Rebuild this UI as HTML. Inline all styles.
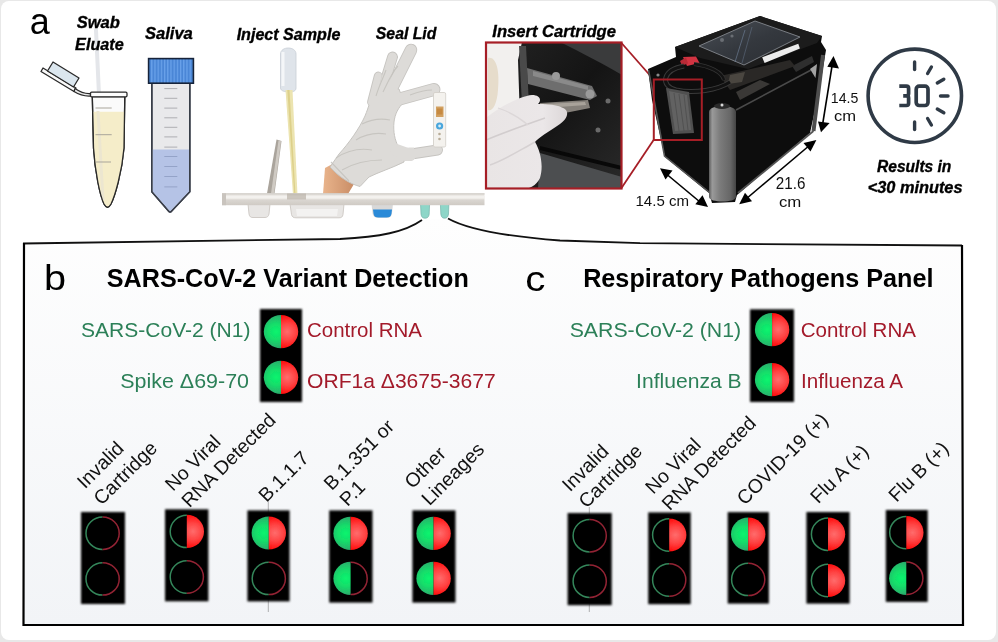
<!DOCTYPE html>
<html><head><meta charset="utf-8">
<style>
html,body{margin:0;padding:0;background:#e8e8e8;}
body{width:998px;height:642px;overflow:hidden;position:relative;font-family:"Liberation Sans",sans-serif;}
#frame{position:absolute;left:1px;top:1px;width:995px;height:639px;background:#fff;border-radius:8px;}
svg{position:absolute;left:0;top:0;will-change:transform;}
.lbl{font-family:"Liberation Sans",sans-serif;font-weight:bold;font-style:italic;}
.g{fill:#2c8058;}
.r{fill:#a31a2a;}
.rot{font-size:18px;fill:#111;}
</style></head>
<body>
<div id="frame"></div>
<svg width="998" height="642" viewBox="0 0 998 642">
<defs>
  <linearGradient id="boxbg" x1="0" y1="0" x2="0" y2="1">
    <stop offset="0" stop-color="#fefefe"/>
    <stop offset="1" stop-color="#f2f4f7"/>
  </linearGradient>
  <radialGradient id="gG" cx="0.36" cy="0.5" r="0.55">
    <stop offset="0" stop-color="#0cf46e"/>
    <stop offset="0.45" stop-color="#14dc6a"/>
    <stop offset="0.8" stop-color="#26b86c"/>
    <stop offset="1" stop-color="#2a9a66"/>
  </radialGradient>
  <radialGradient id="rG" cx="0.68" cy="0.5" r="0.55">
    <stop offset="0" stop-color="#ff6c6c"/>
    <stop offset="0.45" stop-color="#ff4444"/>
    <stop offset="0.85" stop-color="#ff1414"/>
    <stop offset="1" stop-color="#e80808"/>
  </radialGradient>
  <filter id="soft" x="-10%" y="-10%" width="120%" height="120%"><feGaussianBlur stdDeviation="0.8"/></filter>
  <filter id="soft2" x="-10%" y="-10%" width="120%" height="120%"><feGaussianBlur stdDeviation="0.45"/></filter>
  <clipPath id="cl"><rect x="-30" y="-30" width="30" height="60"/></clipPath>
  <clipPath id="cr"><rect x="0" y="-30" width="30" height="60"/></clipPath>
  <g id="full" filter="url(#soft2)">
    <ellipse rx="17.2" ry="16.6" fill="url(#gG)" clip-path="url(#cl)"/>
    <ellipse rx="17.2" ry="16.6" fill="url(#rG)" clip-path="url(#cr)"/>
  </g>
  <g id="empty" filter="url(#soft2)">
    <path d="M0,-16.2 A16.6,16.2 0 0 0 0,16.2" fill="none" stroke="#34865a" stroke-width="1.5"/>
    <path d="M0,-16.2 A16.6,16.2 0 0 1 0,16.2" fill="none" stroke="#932434" stroke-width="1.5"/>
  </g>
  <g id="redonly" filter="url(#soft2)">
    <path d="M0,-16.2 A16.6,16.2 0 0 0 0,16.2" fill="none" stroke="#34865a" stroke-width="1.5"/>
    <ellipse rx="17.2" ry="16.6" fill="url(#rG)" clip-path="url(#cr)"/>
  </g>
  <g id="greenonly" filter="url(#soft2)">
    <ellipse rx="17.2" ry="16.6" fill="url(#gG)" clip-path="url(#cl)"/>
    <path d="M0,-16.2 A16.6,16.2 0 0 1 0,16.2" fill="none" stroke="#932434" stroke-width="1.5"/>
  </g>
</defs>

<!-- ============ BOX ============ -->
<path d="M23,243.5 L340,239 C380,237 405,232 422,220 L448,218.5 C465,228 500,236 560,240.5 L640,243.2 L962,245.5 L963,625 L23,625 Z" fill="url(#boxbg)"/>
<path d="M23,243.5 L340,239 C380,237 405,232 422,220" fill="none" stroke="#111" stroke-width="1.8"/>
<path d="M448,218.5 C465,228 500,236 560,240.5 L640,243.2 L962,245.5" fill="none" stroke="#111" stroke-width="1.8"/>
<path d="M24,243 L23.5,625 L963,625 L962,245" fill="none" stroke="#000" stroke-width="2.2"/>

<!-- ============ PANEL B ============ -->
<text id="tB" x="44.1" y="290.2" font-size="36" fill="#000" transform="translate(46,0) scale(1.1,1) translate(-46,0)">b</text>
<text id="tTitleB" x="287.8" y="287.3" font-size="25" font-weight="bold" text-anchor="middle" fill="#000" textLength="362.0" lengthAdjust="spacingAndGlyphs">SARS-CoV-2 Variant Detection</text>
<text id="g1" x="250.5" y="336.6" font-size="20.5" text-anchor="end" class="g" textLength="169.5" lengthAdjust="spacingAndGlyphs">SARS-CoV-2 (N1)</text>
<text id="g2" x="249.0" y="387.8" font-size="20.5" text-anchor="end" class="g" textLength="128.7" lengthAdjust="spacingAndGlyphs">Spike Δ69-70</text>
<text id="r1" x="307.0" y="336.7" font-size="20.5" class="r" textLength="115.0" lengthAdjust="spacingAndGlyphs">Control RNA</text>
<text id="r2" x="307.1" y="387.9" font-size="20.5" class="r" textLength="188.5" lengthAdjust="spacingAndGlyphs">ORF1a Δ3675-3677</text>
<rect x="260" y="309" width="42" height="93" fill="#000" filter="url(#soft)"/>
<use href="#full" x="281" y="331.7"/>
<use href="#full" x="281" y="377.3"/>

<!-- ============ PANEL C ============ -->
<text id="tC" x="525.5" y="290.7" font-size="36" fill="#000" transform="translate(527,0) scale(1.12,1) translate(-527,0)">c</text>
<text id="tTitleC" x="758.3" y="287.4" font-size="25" font-weight="bold" text-anchor="middle" fill="#000" textLength="350.3" lengthAdjust="spacingAndGlyphs">Respiratory Pathogens Panel</text>
<text id="g3" x="741.1" y="337" font-size="20.5" text-anchor="end" class="g" textLength="171.4" lengthAdjust="spacingAndGlyphs">SARS-CoV-2 (N1)</text>
<text id="g4" x="741.7" y="387.9" font-size="20.5" text-anchor="end" class="g" textLength="105.6" lengthAdjust="spacingAndGlyphs">Influenza B</text>
<text id="r3" x="800.7" y="337" font-size="20.5" class="r" textLength="115.3" lengthAdjust="spacingAndGlyphs">Control RNA</text>
<text id="r4" x="801.1" y="388" font-size="20.5" class="r" textLength="102.0" lengthAdjust="spacingAndGlyphs">Influenza A</text>
<rect x="750" y="309.3" width="44" height="92.7" fill="#000" filter="url(#soft)"/>
<use href="#full" x="772.1" y="329.7"/>
<use href="#full" x="772.1" y="379.7"/>

<line x1="268.3" y1="500" x2="268.3" y2="612" stroke="#555" stroke-width="0.8" opacity="0.55"/>
<line x1="589.3" y1="507" x2="589.3" y2="612" stroke="#555" stroke-width="0.8" opacity="0.55"/>
<!-- bottom row B -->
<g filter="url(#soft)">
<rect x="81" y="512" width="44" height="92" fill="#000"/>
<rect x="165" y="509.3" width="43.4" height="92" fill="#000"/>
<rect x="247.4" y="510.4" width="42.2" height="91" fill="#000"/>
<rect x="329.2" y="510.4" width="43.3" height="92.2" fill="#000"/>
<rect x="412.4" y="510.4" width="43.1" height="92.2" fill="#000"/>
<rect x="567.6" y="513" width="44.1" height="92.2" fill="#000"/>
<rect x="648.2" y="512.4" width="42.5" height="91.8" fill="#000"/>
<rect x="727.7" y="512.1" width="41.2" height="91.5" fill="#000"/>
<rect x="806.4" y="512" width="43.2" height="91.6" fill="#000"/>
<rect x="885.8" y="510" width="41.9" height="91.9" fill="#000"/>
</g>
<use href="#empty" x="102.6" y="533.2"/><use href="#empty" x="102.6" y="578.9"/>
<use href="#redonly" x="186.8" y="531.4"/><use href="#empty" x="186.8" y="577"/>
<use href="#full" x="268.8" y="533"/><use href="#empty" x="268.8" y="578.4"/>
<use href="#full" x="350.6" y="533.4"/><use href="#greenonly" x="350.6" y="578.4"/>
<use href="#full" x="433.6" y="533.4"/><use href="#full" x="433.6" y="578.4"/>

<use href="#empty" x="589.7" y="535.7"/><use href="#empty" x="589.7" y="581.2"/>
<use href="#redonly" x="669.2" y="535"/><use href="#empty" x="669.2" y="580"/>
<use href="#full" x="748.2" y="534.2"/><use href="#empty" x="748.2" y="579.4"/>
<use href="#redonly" x="828" y="534.2"/><use href="#redonly" x="828" y="580.5"/>
<use href="#redonly" x="906.3" y="532.6"/><use href="#greenonly" x="906.3" y="578.3"/>

<!-- rotated labels -->
<g fill="#111" font-size="19.5">
<text transform="translate(85.0,489.5) rotate(-45)"><tspan x="0" y="0">Invalid</tspan><tspan x="0" y="23.5">Cartridge</tspan></text>
<text transform="translate(173.0,492.0) rotate(-45)"><tspan x="0" y="0">No Viral</tspan><tspan x="0" y="23.5">RNA Detected</tspan></text>
<text transform="translate(266.5,503.0) rotate(-45)">B.1.1.7</text>
<text transform="translate(331.7,491.3) rotate(-45)"><tspan x="0" y="0">B.1.351 or</tspan><tspan x="0" y="22.5">P.1</tspan></text>
<text transform="translate(412.5,489.5) rotate(-45)"><tspan x="0" y="0">Other</tspan><tspan x="0" y="24">Lineages</tspan></text>
<text transform="translate(570.0,492.5) rotate(-45)"><tspan x="0" y="0">Invalid</tspan><tspan x="0" y="23.5">Cartridge</tspan></text>
<text transform="translate(653.2,495.0) rotate(-45)"><tspan x="0" y="0">No Viral</tspan><tspan x="0" y="23.5">RNA Detected</tspan></text>
<text transform="translate(744.8,505.9) rotate(-45)">COVID-19 (+)</text>
<text transform="translate(818.2,504.4) rotate(-45)">Flu A (+)</text>
<text transform="translate(896.6,503) rotate(-45)">Flu B (+)</text>
</g>

<!-- ============ PANEL A ============ -->
<!-- ===== tubes ===== -->
<g id="tubes">
  <!-- swab stick (behind) -->
  <path d="M96,30 L99,95" stroke="#e4e6ea" stroke-width="4" stroke-linecap="round"/>
  <!-- eppendorf cap plate + plug -->
  <g stroke="#2a2a2a" stroke-width="1.3" stroke-linejoin="round">
    <path d="M43,68 L76,88 L74,91.5 L41,71.5 Z" fill="#fafafa"/>
    <path d="M53,62 L79,78 L73.5,87 L47.5,71 Z" fill="#dbe6ee"/>
    <path d="M75,88.5 C80,92 84,94 90.5,93.5 L90.5,96 C83,96.5 78,94 74,91.5 Z" fill="#e8e8e8"/>
  </g>
  <!-- eppendorf body -->
  <path d="M92.3,96.5 L93.5,148 C95,172 100,196 104,204 Q107.5,210.5 111,204 C115,196 122,172 124,148 L124.8,96.5 Z" fill="#fbfbfb" stroke="#2a2a2a" stroke-width="1.3"/>
  <path d="M93.2,111.7 L124.2,111.7 L124,148 C122,172 115,196 111,204 Q107.5,210 104,204 C100,196 95,172 94,148 Z" fill="#f5edc9"/>
  <path d="M98,111 L103,200" stroke="#ece6d0" stroke-width="3"/>
  <g stroke="#a9a59a" stroke-width="1">
    <line x1="95.5" y1="108" x2="111.7" y2="108"/>
    <line x1="95.5" y1="134.7" x2="111.7" y2="134.7"/>
    <line x1="96" y1="162" x2="111" y2="162"/>
  </g>
  <path d="M92.3,96.5 L93.5,148 C95,172 100,196 104,204 Q107.5,210.5 111,204 C115,196 122,172 124,148 L124.8,96.5" fill="none" stroke="#2a2a2a" stroke-width="1.3"/>
  <rect x="90.5" y="92.2" width="36.5" height="4.6" rx="1.2" fill="#fdfdfd" stroke="#2a2a2a" stroke-width="1.3"/>

  <!-- falcon tube -->
  <path d="M151.8,83 L151.8,191.7 L168.5,211 C169.5,212.3 170.7,212.3 171.7,211 L189.8,191.7 L189.8,83 Z" fill="#e9e9eb" stroke="#3a3f4a" stroke-width="1.5" stroke-linejoin="round"/>
  <path d="M152.6,149.6 L189,149.6 L189,191.4 L171.3,210.2 C170.6,211 169.6,211 168.9,210.2 L152.6,191.4 Z" fill="#b5c3e6"/>
  <path d="M151.8,83 L151.8,191.7 L168.5,211 C169.5,212.3 170.7,212.3 171.7,211 L189.8,191.7 L189.8,83" fill="none" stroke="#3a3f4a" stroke-width="1.5" stroke-linejoin="round"/>
  <g stroke="#aeaeb2" stroke-width="1">
    <line x1="164.3" y1="88.6" x2="177.3" y2="88.6"/>
    <line x1="164.3" y1="98.3" x2="177.3" y2="98.3"/>
    <line x1="164.3" y1="108.1" x2="177.3" y2="108.1"/>
    <line x1="164.3" y1="117.8" x2="177.3" y2="117.8"/>
    <line x1="164.3" y1="127.3" x2="177.3" y2="127.3"/>
    <line x1="164.3" y1="136.9" x2="177.3" y2="136.9"/>
    <line x1="164.3" y1="147.1" x2="177.3" y2="147.1"/>
  </g>
  <g stroke="#94a3c8" stroke-width="1">
    <line x1="164.3" y1="156.5" x2="177.3" y2="156.5"/>
    <line x1="164.3" y1="166.5" x2="177.3" y2="166.5"/>
    <line x1="164.3" y1="176.5" x2="177.3" y2="176.5"/>
    <line x1="164.3" y1="186.9" x2="177.3" y2="186.9"/>
  </g>
  <defs>
    <pattern id="capstripe" x="148" y="0" width="3.2" height="10" patternUnits="userSpaceOnUse">
      <rect width="3.2" height="10" fill="#4a86d6"/><rect width="1.2" height="10" fill="#6aa2ea"/>
    </pattern>
  </defs>
  <rect x="148.6" y="58.6" width="44.8" height="24.6" fill="url(#capstripe)" stroke="#16233a" stroke-width="1.6"/>
</g>
<!-- ===== cartridge / pipette / glove ===== -->
<g id="cart">
  <defs>
    <linearGradient id="barg" x1="0" y1="0" x2="0" y2="1">
      <stop offset="0" stop-color="#e6e3df"/>
      <stop offset="0.35" stop-color="#efece8"/>
      <stop offset="0.6" stop-color="#d9d5d0"/>
      <stop offset="1" stop-color="#cfcac4"/>
    </linearGradient>
    <linearGradient id="skin" x1="0" y1="0" x2="1" y2="0">
      <stop offset="0" stop-color="#e9b48c"/>
      <stop offset="1" stop-color="#c98d66"/>
    </linearGradient>
    <linearGradient id="glv" x1="0" y1="0" x2="1" y2="1">
      <stop offset="0" stop-color="#e2e1de"/>
      <stop offset="1" stop-color="#d2d0cc"/>
    </linearGradient>
  </defs>
  <!-- lid flap -->
  <path d="M276.5,139.5 L281.5,141 L274.5,193.5 L267,193.5 Z" fill="#aaa49c"/>
  <path d="M278.5,140.5 L281,141.2 L274,193.5 L271,193.5 Z" fill="#cfcac3"/>
  <!-- pipette -->
  <path d="M280.5,54 C280.5,46 296,46 296,54 L296,88 C296,91 293,92 290,92 C285,92 280.5,91 280.5,88 Z" fill="#dfe4ea" stroke="#c8ced6" stroke-width="0.8"/>
  <path d="M283,52 L283,86" stroke="#f4f6f8" stroke-width="3"/>
  <path d="M285.5,90 L292.5,90 L297.5,195 L293,195 Z" fill="#ece4b0"/>
  <path d="M287.3,90 L289.5,90 L295.5,195 L294.3,195 Z" fill="#ddd08a"/>
  <!-- arm -->
  <path d="M325,168 L340,160 L354,184 L348,194 L323,194 Z" fill="url(#skin)"/>
  <!-- glove -->
  <g stroke-linecap="round" fill="none">
    <g stroke="#c6c4c0">
      <path d="M371.5,102 L378.2,76" stroke-width="8.8"/>
      <path d="M380,98 L392.5,57" stroke-width="10.8"/>
      <path d="M388,96 L411,50" stroke-width="12.6"/>
      <path d="M396,100 L434,89.5" stroke-width="13"/>
      <path d="M398,156 L437.5,150" stroke-width="11"/>
    </g>
  </g>
  <path d="M330,167 L339,154 C349,143 359,129 365,116 C369,106 371,99 372,92 L385,86 L399,89 L404,102 C398,108 395,114 394,122 C393,132 395,140 398,146 L404,150 L404,162 C392,168 379,172 369,177 L360,186.5 C350,184 339,177 330,167 Z" fill="#dddbd8" stroke="#c6c4c0" stroke-width="1"/>
  <g stroke-linecap="round" fill="none">
    <g stroke="#dddbd8">
      <path d="M371.5,102 L378.2,76" stroke-width="7"/>
      <path d="M380,98 L392.5,57" stroke-width="9"/>
      <path d="M388,96 L411,50" stroke-width="10.8"/>
      <path d="M396,100 L434,89.5" stroke-width="11.2"/>
      <path d="M398,156 L437.5,150" stroke-width="9.2"/>
      <path d="M396,150 L410,155" stroke-width="12"/>
    </g>
  </g>
  <path d="M401,150 C402,148 408,147.5 414,147.5 L414,160 C409,161 404,161.5 401,160 Z" fill="#dddbd8"/>
  <g fill="none" stroke="#c4c2bd" stroke-width="1.1" opacity="0.85">
    <path d="M336,158 C348,150 360,148 372,150"/>
    <path d="M342,170 C354,163 368,160 382,160"/>
    <path d="M356,140 C364,135 374,132 386,134"/>
    <path d="M362,124 C370,120 380,118 390,120"/>
    <path d="M383,92 C386,86 392,72 398,66"/>
    <path d="M376,96 C379,86 384,76 386,70"/>
    <path d="M410,95 C418,92 426,90 432,90"/>
    <path d="M331,162 L349,181"/>
  </g>
  <!-- lid strip -->
  <rect x="433.5" y="92.5" width="12.2" height="54.5" rx="1.5" fill="#f4f2ee" stroke="#d0cdc6" stroke-width="0.8"/>
  <rect x="436" y="106.5" width="7.5" height="10.5" fill="#d2a060"/>
  <rect x="437" y="108.5" width="5.5" height="6" fill="#c68a42"/>
  <circle cx="439.6" cy="126" r="3.6" fill="#4aa6dc"/>
  <circle cx="439.6" cy="126" r="1.4" fill="#d8eef8"/>
  <circle cx="439.5" cy="134" r="1.3" fill="#b8ac98"/>
  <circle cx="439.5" cy="139" r="1.3" fill="#b8ac98"/>
  <!-- cartridge bar -->
  <path d="M248,204 L249,214 C249.5,217 251,217.5 253,217.5 L265,217.5 C267,217.5 268.5,216.5 269,214 L270,204 Z" fill="#e8e6e4" stroke="#c6c2bd" stroke-width="0.8"/>
  <path d="M290,204 L291.5,214.5 C292,217 293.5,217.8 296,217.8 L339,217.8 C341.5,217.8 342.5,217 343,214.5 L344,204 Z" fill="#e8e6e4" stroke="#c6c2bd" stroke-width="0.8"/>
  <path d="M296,209 L338,209 L337,216 L297,216 Z" fill="#f3f2f1"/>
  <path d="M371.5,204 L372.5,213 C373,216.5 375,217.7 378,217.7 L387,217.7 C390,217.7 391.5,216.5 392,213 L393,204 Z" fill="#d8d8d8"/>
  <path d="M373,209.5 L392,209.5 L391.5,213.5 C391,216.5 389.5,217.5 386.5,217.5 L378.5,217.5 C375.5,217.5 374,216.5 373.5,213.5 Z" fill="#2a8ad8"/>
  <path d="M420.5,204 L421,214 C421.5,217.5 423,218.2 425,218.2 C427,218.2 428.7,217.5 429.2,214 L429.6,204 Z" fill="#8ed6c8" stroke="#6aa8a0" stroke-width="0.6"/>
  <path d="M440.4,204 L440.8,214 C441.3,217.5 442.8,218.2 444.6,218.2 C446.5,218.2 448,217.5 448.5,214 L448.9,204 Z" fill="#8ed6c8" stroke="#6aa8a0" stroke-width="0.6"/>
  <rect x="222" y="193.3" width="262.5" height="11.9" fill="url(#barg)"/>
  <rect x="222" y="193.3" width="262.5" height="1.2" fill="#d0ccc6"/>
  <rect x="222" y="196" width="262.5" height="2.5" fill="#f3f1ee"/>
  <rect x="287" y="193.5" width="19" height="6" fill="#b9b2a8" opacity="0.7"/>
  <rect x="222" y="193.3" width="4" height="11.9" fill="#c9c4be"/>
</g>
<!-- ===== inset photo ===== -->
<g id="inset">
  <defs>
    <clipPath id="insclip"><rect x="486" y="42" width="135.5" height="146.5"/></clipPath>
    <linearGradient id="insdark" x1="0" y1="0" x2="1" y2="1">
      <stop offset="0" stop-color="#242424"/>
      <stop offset="0.5" stop-color="#141414"/>
      <stop offset="1" stop-color="#2a2a2a"/>
    </linearGradient>
    <linearGradient id="glv2" x1="0" y1="0" x2="1" y2="0">
      <stop offset="0" stop-color="#e9e5e5"/>
      <stop offset="0.7" stop-color="#ebe7e8"/>
      <stop offset="1" stop-color="#dcd7d8"/>
    </linearGradient>
  </defs>
  <g clip-path="url(#insclip)">
    <rect x="486" y="42" width="136" height="147" fill="url(#insdark)"/>
    <!-- light left background -->
    <path d="M486,42 L522,42 L518,60 L520,120 L486,130 Z" fill="#f2f0ee"/>
    <path d="M488,58 C496,56 500,70 498,90 C497,105 492,112 488,110 Z" fill="#e6dccb"/>
    <!-- top right gray -->
    <path d="M560,42 L622,42 L622,75 C600,62 580,52 560,42 Z" fill="#3a3b3c"/>
    <!-- frame bar -->
    <path d="M519,46 L526,46 L530,125 L523,125 Z" fill="#4a4a4a"/>
    <!-- mechanism -->
    <path d="M527,68 L592,86 L597,96 L590,100 L528,84 Z" fill="#6e6e6e"/>
    <path d="M533,71 L588,86 L588,90 L533,76 Z" fill="#8a8a8a"/>
    <circle cx="556" cy="76" r="4" fill="#9a9a9a"/>
    <circle cx="590" cy="94" r="4.5" fill="#9a9a9a"/>
    <circle cx="608" cy="101" r="2.5" fill="#6a6a6a"/>
    <circle cx="598" cy="130" r="2.5" fill="#6a6a6a"/>
    <!-- lower right panel -->
    <path d="M540,153 L622,177 L622,189 L538,189 Z" fill="#4c4e50"/>
    <path d="M540,146 L622,166 L622,170 L540,150 Z" fill="#080808"/>
    <!-- cartridge being inserted -->
    <path d="M540,103 L588,100 L590,108 L560,114 L540,112 Z" fill="#85807a"/>
    <path d="M545,104 L585,102 L586,105 L545,108 Z" fill="#a8a29a"/>
    <!-- glove -->
    <path d="M486,118 C498,108 520,96 532,95 C540,95 542,100 538,104 C552,104 562,106 566,110 C569,114 566,120 560,124 C548,132 538,138 535,142 C540,150 544,165 540,178 C536,186 530,189 520,189 L486,189 Z" fill="url(#glv2)"/>
    <path d="M486,140 C505,132 525,125 545,118" fill="none" stroke="#d2cdce" stroke-width="1.5"/>
    <path d="M490,165 C505,160 520,150 535,142" fill="none" stroke="#d6d1d2" stroke-width="1.5"/>
    <path d="M498,108 C510,112 520,118 528,125" fill="none" stroke="#dcd7d8" stroke-width="1.2"/>
  </g>
  <rect x="486" y="42.5" width="135.5" height="146" fill="none" stroke="#a61e26" stroke-width="2.2"/>
  <!-- connector lines -->
  <line x1="621.5" y1="43" x2="653.6" y2="79.5" stroke="#a61e26" stroke-width="1.8"/>
  <line x1="621.5" y1="188" x2="653.6" y2="140" stroke="#a61e26" stroke-width="1.8"/>
</g>
<!-- ===== device ===== -->
<g id="device">
  <defs>
    <linearGradient id="pill" x1="0" y1="0" x2="1" y2="0">
      <stop offset="0" stop-color="#5a5a5a"/>
      <stop offset="0.12" stop-color="#9a9a9a"/>
      <stop offset="0.4" stop-color="#7c7c7c"/>
      <stop offset="0.8" stop-color="#666"/>
      <stop offset="1" stop-color="#444"/>
    </linearGradient>
    <linearGradient id="scr" x1="0" y1="0" x2="1" y2="1">
      <stop offset="0" stop-color="#4a4f56"/>
      <stop offset="0.5" stop-color="#34383e"/>
      <stop offset="1" stop-color="#2a2d32"/>
    </linearGradient>
  </defs>
  <!-- silhouette -->
  <path d="M648,69 L662,63 L676,57 L675,47 L760,16 L822,36 L821,42 L826,50 L825,56 L819,92 L810,133 L737,195 L735,202 L712,203 L709,193 L665,157 L652,100 Z" fill="#0d0d0d"/>
  <!-- lid plate lighter edge -->
  <path d="M675,47 L760,16 L822,36 L817,43 L748,69 L700,58 Z" fill="#1c1c1c"/>
  <!-- screen -->
  <path d="M699,46 L755,21 L800,37 L744,65 Z" fill="url(#scr)" stroke="#7a7e84" stroke-width="1"/>
  <path d="M745,30 L735,62" stroke="#6a7a90" stroke-width="1" opacity="0.7"/>
  <path d="M752,27 L742,63" stroke="#6a7a90" stroke-width="0.8" opacity="0.6"/>
  <circle cx="722" cy="40" r="2" fill="#6a6e74"/>
  <circle cx="732" cy="36" r="1.6" fill="#6a6e74"/>
  <!-- white label -->
  <path d="M762.2,57.3 L798.3,43.7 L799.9,48.5 L764.6,62.9 Z" fill="#ececec"/>
  <!-- front panel border -->
  <path d="M736,110 L813,69" stroke="#4a4a4a" stroke-width="1.6"/>
  <path d="M823,55 L813.5,131" fill="none" stroke="#4e4e4e" stroke-width="4"/>
  <path d="M813.5,131 L738,193" fill="none" stroke="#555" stroke-width="1.8"/>
  <path d="M810,69 L817,64 L815.5,78 Z" fill="#a2a2a2"/>
  <path d="M736,92 L760,80 L770,84 L740,100 Z" fill="#3a3836"/>
  <path d="M792,66 L812,56 L814,62 L796,72 Z" fill="#2e2e2e"/>
  <!-- top components area -->
  <path d="M720,76 L790,60 L795,66 L730,90 Z" fill="#2a2826"/>
  <path d="M730,75 L745,72 L742,82 L728,84 Z" fill="#4a4640"/>
  <!-- red connector -->
  <path d="M683,57 L696,56.5 L699.5,63 L687,66 Z" fill="#d23442"/>
  <path d="M680,61 L686,57.5 L688,63.5 L682,65.5 Z" fill="#b82a36"/>
  <!-- cables -->
  <path d="M684,66 C662,70 660,86 676,90 C694,94 718,90 730,82" fill="none" stroke="#3a3a3a" stroke-width="5"/>
  <path d="M684,66 C662,70 660,86 676,90 C694,94 718,90 730,82" fill="none" stroke="#111" stroke-width="3"/>
  <path d="M694,64 C710,66 722,72 724,80" fill="none" stroke="#333" stroke-width="4"/>
  <path d="M694,64 C710,66 722,72 724,80" fill="none" stroke="#121212" stroke-width="2.4"/>
  <!-- left panel edge -->
  <path d="M648.5,70 L664.5,156 L709,192" fill="none" stroke="#555" stroke-width="1.6"/>
  <circle cx="658" cy="75" r="1.6" fill="#8a8a8a"/>
  <!-- component in red box -->
  <path d="M666,88 L689,92 L694,133 L673,134 Z" fill="#505050"/>
  <path d="M669,91 L687,95 L691,130 L675,131 Z" fill="#626262"/>
  <g stroke="#4c4c4c" stroke-width="0.8"><line x1="674" y1="93" x2="679" y2="131"/><line x1="679" y1="94" x2="684" y2="131"/><line x1="684" y1="95" x2="688" y2="130"/></g>
  <!-- pillar -->
  <path d="M709,112 C709,104 736,104 736,112 L736,197 C736,203 709,203 709,197 Z" fill="url(#pill)"/>
  <ellipse cx="722" cy="106" rx="8" ry="3" fill="#2a2a2a"/>
  <circle cx="722" cy="105" r="1.5" fill="#d8d8d8"/>
  <!-- red box -->
  <rect x="653.8" y="79.5" width="48" height="60.5" fill="none" stroke="#a61e26" stroke-width="2"/>
</g>
<!-- ===== arrows & dims ===== -->
<g id="dims" fill="#000">
  <line x1="664" y1="172" x2="700" y2="202" stroke="#000" stroke-width="1.6"/>
  <path d="M660,168.2 L672.5,170.5 L665.5,179.5 Z"/>
  <path d="M708,206.9 L695.3,204.3 L702.5,195.3 Z"/>
  <line x1="810" y1="145" x2="746" y2="199" stroke="#000" stroke-width="1.6"/>
  <path d="M816.4,140.1 L810.5,151.5 L803.5,143 Z"/>
  <path d="M739.2,204.2 L745,192.8 L752,201.3 Z"/>
  <line x1="832.5" y1="63" x2="822.5" y2="125" stroke="#000" stroke-width="1.6"/>
  <path d="M833.5,55.9 L839,68.4 L827.3,66.8 Z"/>
  <path d="M821,132.3 L818,121.4 L829.6,123 Z"/>
</g>
<g font-size="14.5" fill="#111">
  <text id="d1" x="635.5" y="205.7" textLength="53.5" lengthAdjust="spacingAndGlyphs">14.5 cm</text>
  <text id="d2" x="775.8" y="189" font-size="16.5" textLength="29.6" lengthAdjust="spacingAndGlyphs">21.6</text>
  <text id="d3" x="778.9" y="206.6" font-size="15.5" textLength="22.4" lengthAdjust="spacingAndGlyphs">cm</text>
  <text id="d4" x="830.8" y="102.7" textLength="27.5" lengthAdjust="spacingAndGlyphs">14.5</text>
  <text id="d5" x="833.9" y="120.6" textLength="22.1" lengthAdjust="spacingAndGlyphs">cm</text>
</g>
<!-- ===== timer ===== -->
<g id="timer" stroke="#2f3a46" fill="none" stroke-linecap="round">
  <circle cx="914.8" cy="95.8" r="46.7" stroke-width="3.6"/>
  <g stroke-width="3.4">
    <line x1="914.6" y1="62" x2="914.6" y2="69.5"/>
    <line x1="914.6" y1="122" x2="914.6" y2="129.5"/>
    <line x1="940.5" y1="96" x2="948" y2="96"/>
    <line x1="927.6" y1="73.5" x2="931.4" y2="67"/>
    <line x1="937.3" y1="83" x2="943.8" y2="79.2"/>
    <line x1="937.3" y1="109" x2="943.8" y2="112.8"/>
    <line x1="927.6" y1="118.5" x2="931.4" y2="125"/>
  </g>
  <!-- 30 -->
  <g stroke-width="3.7" stroke-linecap="butt" stroke-linejoin="round">
    <path d="M899.3,86.2 L906.4,86.2 Q908.6,86.2 908.6,88.4 L908.6,93.6 Q908.6,95.8 906.4,95.8 L903.2,95.8 M906.4,95.8 Q908.6,95.8 908.6,98 L908.6,103.3 Q908.6,105.5 906.4,105.5 L899.3,105.5"/>
    <rect x="916.2" y="86.2" width="11.8" height="19.3" rx="3"/>
  </g>
</g>

<text id="tA" x="29.8" y="34.3" font-size="36" fill="#000">a</text>
<g class="lbl" font-size="16" text-anchor="middle" fill="#000" stroke="#000" stroke-width="0.35">
<text id="tSwab" x="98.3" y="28.2" textLength="43.2" lengthAdjust="spacingAndGlyphs">Swab</text>
<text id="tEluate" x="99.4" y="50.4" textLength="48.6" lengthAdjust="spacingAndGlyphs">Eluate</text>
<text id="tSaliva" x="168.9" y="39.3" textLength="47.9" lengthAdjust="spacingAndGlyphs">Saliva</text>
<text id="tInject" x="288.5" y="39.5" textLength="103.7" lengthAdjust="spacingAndGlyphs">Inject Sample</text>
<text id="tSeal" x="406.1" y="39.4" textLength="60.5" lengthAdjust="spacingAndGlyphs">Seal Lid</text>
<text id="tInsert" x="554.1" y="36.5" textLength="123.6" lengthAdjust="spacingAndGlyphs">Insert Cartridge</text>
<text id="tResults" x="914.2" y="172" textLength="74.3" lengthAdjust="spacingAndGlyphs">Results in</text>
<text id="tMin" x="915.1" y="193" textLength="94.9" lengthAdjust="spacingAndGlyphs">&lt;30 minutes</text>
</g>

</svg>
</body></html>
